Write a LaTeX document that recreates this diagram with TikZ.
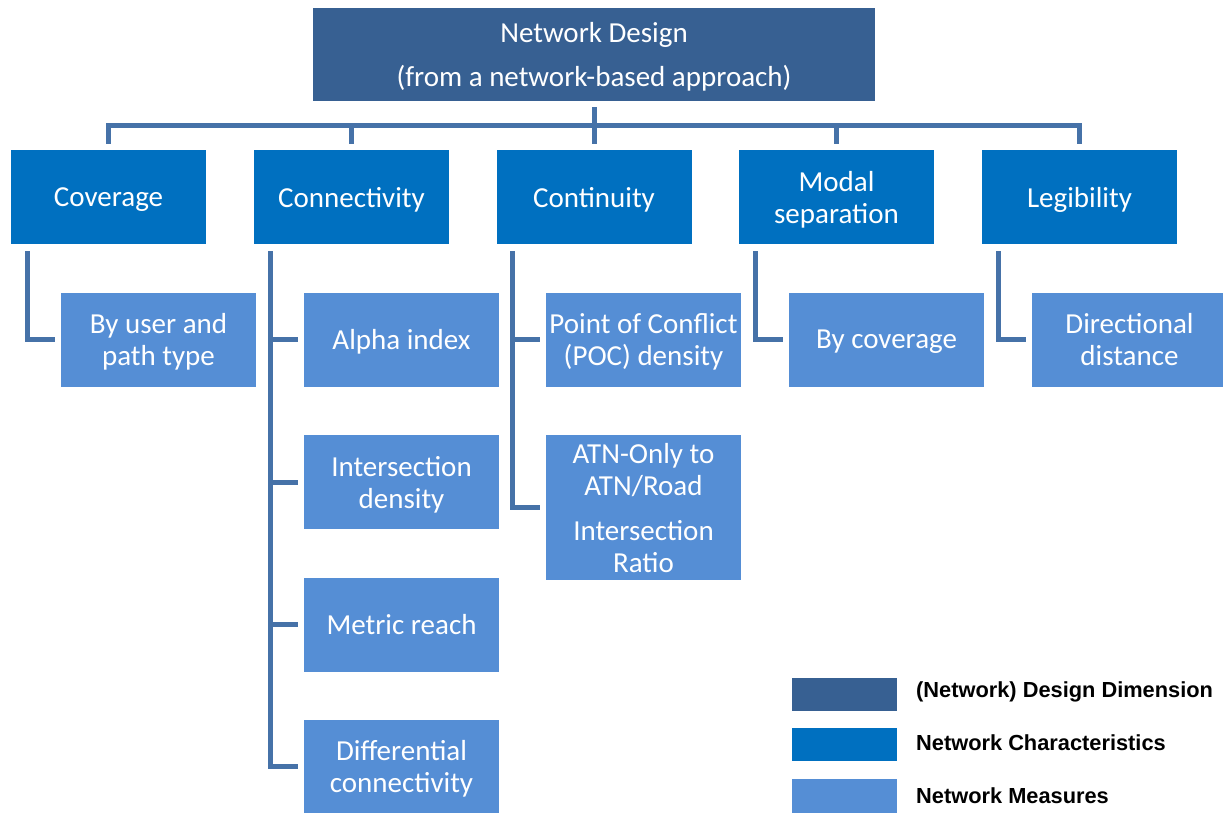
\documentclass[tikz,border=0pt]{standalone}
\usepackage{fontspec}
\setmainfont{Carlito}
\newfontfamily\legendfont{Liberation Sans}
\definecolor{dimc}{HTML}{376092}
\definecolor{charc}{HTML}{0070C0}
\definecolor{measc}{HTML}{558ED5}
\definecolor{connc}{HTML}{4672A8}
\tikzset{
  box/.style={inner sep=0pt, align=center, text=white, text depth=0pt, font=\fontsize{29}{32}\selectfont},
  dimbox/.style={box, fill=dimc, minimum width=562, minimum height=93},
  charbox/.style={box, fill=charc, minimum width=195, minimum height=94},
  measbox/.style={box, fill=measc, minimum width=195, minimum height=94},
  conn/.style={draw=connc, line width=5pt, line join=miter},
  legbox/.style={inner sep=0pt, minimum width=105, minimum height=33},
  legtext/.style={anchor=west, inner sep=0pt, text=black, font=\legendfont\bfseries\fontsize{21.8}{24}\selectfont}
}
\begin{document}
\begin{tikzpicture}[x=1pt,y=-1pt]
\useasboundingbox (0,0) rectangle (1223,812);
\clip (0,0) rectangle (1223,812);

% top
\node[dimbox, font=\fontsize{29}{44}\selectfont] (top) at (594,54.5) {Network Design\\(from a network-based approach)};

% characteristics
\node[charbox] (cov) at (108.5,197) {Coverage};
\node[charbox] (con) at (351.5,197) {Connectivity};
\node[charbox] (cont) at (594,197) {Continuity};
\node[charbox] (mod) at (836.5,197) {Modal\\separation};
\node[charbox] (leg) at (1079.5,197) {Legibility};

% measures
\node[measbox] (covA) at (158.5,339.5) {By user and\\path type};
\node[measbox] (conA) at (401.5,339.5) {Alpha index};
\node[measbox] (conB) at (401.5,482) {Intersection\\density};
\node[measbox] (conC) at (401.5,624.5) {Metric reach};
\node[measbox] (conD) at (401.5,766.5) {Differential\\connectivity};
\node[measbox] (contA) at (643.5,339.5) {Point of Conflict\\(POC) density};
\node[measbox, minimum height=145] (contB) at (643.5,507.5) {ATN-Only to\\ATN/Road\\[13pt]Intersection\\Ratio};
\node[measbox] (modA) at (886.5,339.5) {By coverage};
\node[measbox] (legA) at (1129.5,339.5) {Directional\\distance};

% top connectors
\coordinate (bar) at (594,125);
\draw[conn] ([yshift=-6pt]top.south) -- ([yshift=6pt]cont.north);
\draw[conn] ([yshift=6pt]cov.north) -- (cov.north |- bar) -- (leg.north |- bar) -- ([yshift=6pt]leg.north);
\draw[conn] (con.north |- bar) -- ([yshift=6pt]con.north);
\draw[conn] (mod.north |- bar) -- ([yshift=6pt]mod.north);

% child connectors
\coordinate (covx) at ([xshift=17pt,yshift=-7pt]cov.south west);
\coordinate (conx) at ([xshift=17pt,yshift=-7pt]con.south west);
\coordinate (contx) at ([xshift=16pt,yshift=-7pt]cont.south west);
\coordinate (modx) at ([xshift=17pt,yshift=-7pt]mod.south west);
\coordinate (legx) at ([xshift=17pt,yshift=-7pt]leg.south west);

\draw[conn] (covx) |- ([xshift=-6pt]covA.west);
\draw[conn] (conx) |- ([xshift=-6pt]conD.west);
\draw[conn] (conx |- conA.west) -- ([xshift=-6pt]conA.west);
\draw[conn] (conx |- conB.west) -- ([xshift=-6pt]conB.west);
\draw[conn] (conx |- conC.west) -- ([xshift=-6pt]conC.west);
\draw[conn] (contx) |- ([xshift=-6pt]contB.west);
\draw[conn] (contx |- contA.west) -- ([xshift=-6pt]contA.west);
\draw[conn] (modx) |- ([xshift=-6pt]modA.west);
\draw[conn] (legx) |- ([xshift=-6pt]legA.west);

% legend
\node[legbox, fill=dimc] (lg1) at (844.5,694) {};
\node[legbox, fill=charc] (lg2) at (844.5,744.5) {};
\node[legbox, fill=measc, minimum height=34] (lg3) at (844.5,796) {};
\node[legtext] (lt1) at (916,692) {(Network) Design Dimension};
\node[legtext] (lt2) at (916,743) {Network Characteristics};
\node[legtext] (lt3) at (916,796) {Network Measures};
\end{tikzpicture}
\end{document}
